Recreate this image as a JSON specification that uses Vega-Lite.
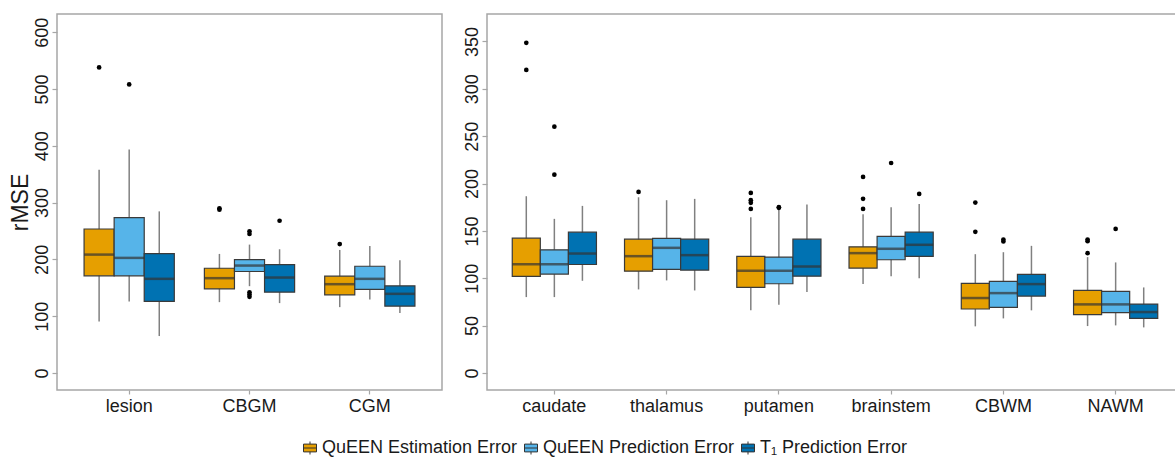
{
  "$schema": "https://vega.github.io/schema/vega-lite/v6.json",
  "background": "white",
  "padding": {"left": 8, "top": 13, "right": 0, "bottom": 0},
  "datasets": {
    "boxes": [
      {"panel": "A", "region": "lesion", "series": "QuEEN Estimation Error", "lo": 90.7, "q1": 171, "med": 208.4, "q3": 253.5, "hi": 357.7},
      {"panel": "A", "region": "lesion", "series": "QuEEN Prediction Error", "lo": 125.9, "q1": 171, "med": 202.6, "q3": 273.4, "hi": 393.4},
      {"panel": "A", "region": "lesion", "series": "T₁ Prediction Error", "lo": 65, "q1": 125.9, "med": 165.7, "q3": 210.2, "hi": 284.5},
      {"panel": "A", "region": "CBGM", "series": "QuEEN Estimation Error", "lo": 124.7, "q1": 148.1, "med": 166.9, "q3": 184.4, "hi": 209.6},
      {"panel": "A", "region": "CBGM", "series": "QuEEN Prediction Error", "lo": 152.8, "q1": 178.6, "med": 189.1, "q3": 199.6, "hi": 226},
      {"panel": "A", "region": "CBGM", "series": "T₁ Prediction Error", "lo": 123, "q1": 142.3, "med": 168, "q3": 190.9, "hi": 217.8},
      {"panel": "A", "region": "CGM", "series": "QuEEN Estimation Error", "lo": 115.9, "q1": 137.6, "med": 156.3, "q3": 170.4, "hi": 216.6},
      {"panel": "A", "region": "CGM", "series": "QuEEN Prediction Error", "lo": 129.4, "q1": 147, "med": 165.7, "q3": 187.9, "hi": 223.7},
      {"panel": "A", "region": "CGM", "series": "T₁ Prediction Error", "lo": 105.4, "q1": 117.7, "med": 139.3, "q3": 153.4, "hi": 198.5},
      {"panel": "B", "region": "caudate", "series": "QuEEN Estimation Error", "lo": 80.1, "q1": 101.9, "med": 114.9, "q3": 142.3, "hi": 186.6},
      {"panel": "B", "region": "caudate", "series": "QuEEN Prediction Error", "lo": 80.1, "q1": 104.4, "med": 114.9, "q3": 130, "hi": 162.7},
      {"panel": "B", "region": "caudate", "series": "T₁ Prediction Error", "lo": 97.3, "q1": 114.5, "med": 126.1, "q3": 148.6, "hi": 176.4},
      {"panel": "B", "region": "thalamus", "series": "QuEEN Estimation Error", "lo": 88.2, "q1": 107.5, "med": 123.3, "q3": 141.2, "hi": 185.5},
      {"panel": "B", "region": "thalamus", "series": "QuEEN Prediction Error", "lo": 97.7, "q1": 109.3, "med": 132.1, "q3": 142, "hi": 182.4},
      {"panel": "B", "region": "thalamus", "series": "T₁ Prediction Error", "lo": 87.1, "q1": 108.6, "med": 124.4, "q3": 141.2, "hi": 183.8},
      {"panel": "B", "region": "putamen", "series": "QuEEN Estimation Error", "lo": 66.1, "q1": 90.3, "med": 107.9, "q3": 123, "hi": 164.4},
      {"panel": "B", "region": "putamen", "series": "QuEEN Prediction Error", "lo": 72, "q1": 94.2, "med": 107.9, "q3": 122.3, "hi": 172.5},
      {"panel": "B", "region": "putamen", "series": "T₁ Prediction Error", "lo": 85.4, "q1": 102.2, "med": 112.4, "q3": 141.2, "hi": 177.8},
      {"panel": "B", "region": "brainstem", "series": "QuEEN Estimation Error", "lo": 93.8, "q1": 110.7, "med": 126.5, "q3": 133.2, "hi": 167.6},
      {"panel": "B", "region": "brainstem", "series": "QuEEN Prediction Error", "lo": 102.2, "q1": 119.5, "med": 131.1, "q3": 144.1, "hi": 175},
      {"panel": "B", "region": "brainstem", "series": "T₁ Prediction Error", "lo": 100.1, "q1": 123, "med": 135.3, "q3": 148.6, "hi": 178.5},
      {"panel": "B", "region": "CBWM", "series": "QuEEN Estimation Error", "lo": 49.2, "q1": 67.5, "med": 79.1, "q3": 94.5, "hi": 125.4},
      {"panel": "B", "region": "CBWM", "series": "QuEEN Prediction Error", "lo": 57.6, "q1": 69.2, "med": 84.3, "q3": 96.6, "hi": 127.5},
      {"panel": "B", "region": "CBWM", "series": "T₁ Prediction Error", "lo": 66.1, "q1": 81.2, "med": 93.8, "q3": 104, "hi": 134.2},
      {"panel": "B", "region": "NAWM", "series": "QuEEN Estimation Error", "lo": 49.5, "q1": 61.5, "med": 72.4, "q3": 87.1, "hi": 122.3},
      {"panel": "B", "region": "NAWM", "series": "QuEEN Prediction Error", "lo": 50.2, "q1": 63.6, "med": 72.4, "q3": 86.1, "hi": 116.7},
      {"panel": "B", "region": "NAWM", "series": "T₁ Prediction Error", "lo": 48.1, "q1": 57.6, "med": 64.3, "q3": 72.7, "hi": 90.3}
    ],
    "outliers": [
      {"panel": "A", "region": "lesion", "series": "QuEEN Estimation Error", "value": 538},
      {"panel": "A", "region": "lesion", "series": "QuEEN Prediction Error", "value": 508},
      {"panel": "A", "region": "CBGM", "series": "QuEEN Estimation Error", "value": 289.8},
      {"panel": "A", "region": "CBGM", "series": "QuEEN Estimation Error", "value": 287.5},
      {"panel": "A", "region": "CBGM", "series": "QuEEN Prediction Error", "value": 249.4},
      {"panel": "A", "region": "CBGM", "series": "QuEEN Prediction Error", "value": 244.7},
      {"panel": "A", "region": "CBGM", "series": "QuEEN Prediction Error", "value": 142},
      {"panel": "A", "region": "CBGM", "series": "QuEEN Prediction Error", "value": 138},
      {"panel": "A", "region": "CBGM", "series": "QuEEN Prediction Error", "value": 134},
      {"panel": "A", "region": "CBGM", "series": "T₁ Prediction Error", "value": 268},
      {"panel": "A", "region": "CGM", "series": "QuEEN Estimation Error", "value": 227},
      {"panel": "B", "region": "caudate", "series": "QuEEN Estimation Error", "value": 348.6},
      {"panel": "B", "region": "caudate", "series": "QuEEN Estimation Error", "value": 320},
      {"panel": "B", "region": "caudate", "series": "QuEEN Prediction Error", "value": 260},
      {"panel": "B", "region": "caudate", "series": "QuEEN Prediction Error", "value": 209.4},
      {"panel": "B", "region": "thalamus", "series": "QuEEN Estimation Error", "value": 191.1},
      {"panel": "B", "region": "putamen", "series": "QuEEN Estimation Error", "value": 190.1},
      {"panel": "B", "region": "putamen", "series": "QuEEN Estimation Error", "value": 182.4},
      {"panel": "B", "region": "putamen", "series": "QuEEN Estimation Error", "value": 179.6},
      {"panel": "B", "region": "putamen", "series": "QuEEN Estimation Error", "value": 173.2},
      {"panel": "B", "region": "putamen", "series": "QuEEN Prediction Error", "value": 174.3},
      {"panel": "B", "region": "putamen", "series": "QuEEN Prediction Error", "value": 175},
      {"panel": "B", "region": "brainstem", "series": "QuEEN Estimation Error", "value": 207},
      {"panel": "B", "region": "brainstem", "series": "QuEEN Estimation Error", "value": 183.8},
      {"panel": "B", "region": "brainstem", "series": "QuEEN Estimation Error", "value": 173.2},
      {"panel": "B", "region": "brainstem", "series": "QuEEN Prediction Error", "value": 221.7},
      {"panel": "B", "region": "brainstem", "series": "T₁ Prediction Error", "value": 189},
      {"panel": "B", "region": "CBWM", "series": "QuEEN Estimation Error", "value": 179.9},
      {"panel": "B", "region": "CBWM", "series": "QuEEN Estimation Error", "value": 149},
      {"panel": "B", "region": "CBWM", "series": "QuEEN Prediction Error", "value": 140.9},
      {"panel": "B", "region": "CBWM", "series": "QuEEN Prediction Error", "value": 138.8},
      {"panel": "B", "region": "NAWM", "series": "QuEEN Estimation Error", "value": 140.9},
      {"panel": "B", "region": "NAWM", "series": "QuEEN Estimation Error", "value": 139.1},
      {"panel": "B", "region": "NAWM", "series": "QuEEN Estimation Error", "value": 126.5},
      {"panel": "B", "region": "NAWM", "series": "QuEEN Prediction Error", "value": 152.1}
    ]
  },
  "hconcat": [
    {
      "width": 385,
      "height": 376,
      "encoding": {
        "x": {"field": "region", "type": "nominal", "title": null,
              "scale": {"domain": ["lesion", "CBGM", "CGM"], "paddingInner": 0.25, "paddingOuter": 0.225}},
        "xOffset": {"field": "series", "type": "nominal",
              "scale": {"domain": ["QuEEN Estimation Error", "QuEEN Prediction Error", "T₁ Prediction Error"], "paddingInner": 0, "paddingOuter": 0}}
      },
      "layer": [
        {
          "data": {"name": "boxes"},
          "transform": [{"filter": "datum.panel == 'A'"}],
          "mark": {"type": "rule", "color": "#808080", "strokeWidth": 1.5},
          "encoding": {
            "y": {"field": "lo", "type": "quantitative", "title": "rMSE",
                  "scale": {"domain": [-30, 632], "nice": false, "zero": false},
                  "axis": {"values": [0, 100, 200, 300, 400, 500, 600]}},
            "y2": {"field": "hi"}
          }
        },
        {
          "data": {"name": "boxes"},
          "transform": [{"filter": "datum.panel == 'A'"}],
          "mark": {"type": "bar", "stroke": "#3a3a3a", "strokeWidth": 1.2, "opacity": 1},
          "encoding": {
            "y": {"field": "q1", "type": "quantitative", "title": "rMSE"},
            "y2": {"field": "q3"},
            "color": {"field": "series", "type": "nominal", "title": null,
                      "scale": {"domain": ["QuEEN Estimation Error", "QuEEN Prediction Error", "T₁ Prediction Error"], "range": ["#E69F00", "#56B4E9", "#0072B2"]},
                      "legend": {"orient": "none", "direction": "horizontal", "legendX": 244, "legendY": 425}}
          }
        },
        {
          "data": {"name": "boxes"},
          "transform": [{"filter": "datum.panel == 'A'"}],
          "mark": {"type": "tick", "color": "#333333", "thickness": 2.5, "size": 30, "orient": "horizontal"},
          "encoding": {
            "y": {"field": "med", "type": "quantitative", "title": "rMSE"}
          }
        },
        {
          "data": {"name": "outliers"},
          "transform": [{"filter": "datum.panel == 'A'"}],
          "mark": {"type": "point", "filled": true, "color": "black", "size": 22, "opacity": 1},
          "encoding": {
            "y": {"field": "value", "type": "quantitative", "title": "rMSE"}
          }
        }
      ]
    },
    {
      "width": 696,
      "height": 376,
      "encoding": {
        "x": {"field": "region", "type": "nominal", "title": null,
              "scale": {"domain": ["caudate", "thalamus", "putamen", "brainstem", "CBWM", "NAWM"], "paddingInner": 0.25, "paddingOuter": 0.225}},
        "xOffset": {"field": "series", "type": "nominal",
              "scale": {"domain": ["QuEEN Estimation Error", "QuEEN Prediction Error", "T₁ Prediction Error"], "paddingInner": 0, "paddingOuter": 0}}
      },
      "layer": [
        {
          "data": {"name": "boxes"},
          "transform": [{"filter": "datum.panel == 'B'"}],
          "mark": {"type": "rule", "color": "#808080", "strokeWidth": 1.5},
          "encoding": {
            "y": {"field": "lo", "type": "quantitative", "title": null,
                  "scale": {"domain": [-18, 379], "nice": false, "zero": false},
                  "axis": {"values": [0, 50, 100, 150, 200, 250, 300, 350]}},
            "y2": {"field": "hi"}
          }
        },
        {
          "data": {"name": "boxes"},
          "transform": [{"filter": "datum.panel == 'B'"}],
          "mark": {"type": "bar", "stroke": "#3a3a3a", "strokeWidth": 1.2, "opacity": 1},
          "encoding": {
            "y": {"field": "q1", "type": "quantitative", "title": null},
            "y2": {"field": "q3"},
            "color": {"field": "series", "type": "nominal", "title": null,
                      "scale": {"domain": ["QuEEN Estimation Error", "QuEEN Prediction Error", "T₁ Prediction Error"], "range": ["#E69F00", "#56B4E9", "#0072B2"]}}
          }
        },
        {
          "data": {"name": "boxes"},
          "transform": [{"filter": "datum.panel == 'B'"}],
          "mark": {"type": "tick", "color": "#333333", "thickness": 2.5, "size": 28, "orient": "horizontal"},
          "encoding": {
            "y": {"field": "med", "type": "quantitative", "title": null}
          }
        },
        {
          "data": {"name": "outliers"},
          "transform": [{"filter": "datum.panel == 'B'"}],
          "mark": {"type": "point", "filled": true, "color": "black", "size": 22, "opacity": 1},
          "encoding": {
            "y": {"field": "value", "type": "quantitative", "title": null}
          }
        }
      ]
    }
  ],
  "spacing": 19,
  "resolve": {"scale": {"y": "independent", "x": "independent", "xOffset": "independent", "color": "shared"}},
  "config": {
    "font": "Liberation Sans",
    "view": {"stroke": "#a6a6a6", "strokeWidth": 1.5},
    "axis": {
      "domain": false,
      "grid": false,
      "tickColor": "#a6a6a6",
      "tickWidth": 1.2,
      "tickSize": 5,
      "labelColor": "#1a1a1a",
      "labelFontSize": 18,
      "titleColor": "#1a1a1a"
    },
    "axisX": {"labelAngle": 0, "labelPadding": 3, "tickSize": 4},
    "axisY": {"labelAngle": -90, "labelAlign": "center", "labelBaseline": "bottom", "labelPadding": 1, "titleFontSize": 23, "titleFontWeight": "normal", "titlePadding": 1},
    "legend": {
      "labelFontSize": 18,
      "labelLimit": 0,
      "labelColor": "#1a1a1a",
      "symbolType": "M-1,-0.6H1V0.6H-1Z M-1,0H1 M0,-0.6V-1 M0,0.6V1",
      "symbolSize": 169,
      "symbolStrokeColor": "#333333",
      "symbolStrokeWidth": 1,
      "symbolOpacity": 1,
      "labelOffset": 3,
      "columnPadding": 4
    }
  }
}
